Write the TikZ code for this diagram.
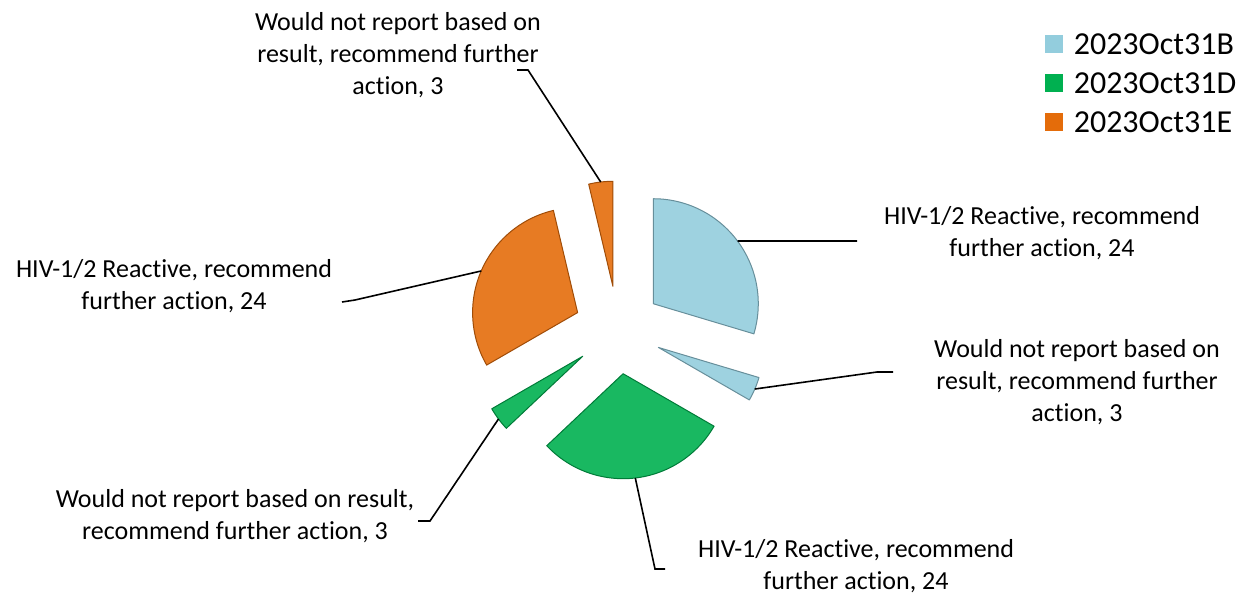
\documentclass[tikz,border=0pt]{standalone}
\usepackage{xcolor}
\usepackage{fontspec}
\setmainfont{Carlito}[Ligatures=NoCommon]
\usetikzlibrary{positioning}

\definecolor{oct31b}{HTML}{93CDDD}
\definecolor{oct31d}{HTML}{00B050}
\definecolor{oct31e}{HTML}{E46C0A}

\begin{document}
\begin{tikzpicture}[x=0.5pt, y=-0.5pt,
		slice/.style={fill=#1!90!white, draw=#1!70!black, line width=0.5pt, line join=round},
		leader/.style={draw=black, line width=0.8pt},
		lbl/.style={align=center, font=\fontsize{13}{16}\selectfont, inner sep=0pt},
		keybox/.style={fill=#1, minimum size=9pt, inner sep=0pt},
		keytext/.style={font=\fontsize{16}{19.5}\selectfont, inner sep=0pt}]
	\useasboundingbox (0,0) rectangle (1245,594);
	
	% We will draw the exploded pie here (angles clockwise, y runs down)
	\coordinate (centre) at (618,330);
	\foreach \name/\from/\to/\col in {
			bb/-90/16.67/oct31b,
			bs/16.67/30/oct31b,
			db/30/136.67/oct31d,
			ds/136.67/150/oct31d,
			eb/150/256.67/oct31e,
			es/256.67/270/oct31e}
	{
		\pgfmathsetmacro{\midang}{(\from+\to)/2}
		\path[slice=\col] (centre) ++(\midang:44) coordinate (\name-apex)
			-- ++(\from:105) arc[start angle=\from, end angle=\to, radius=105] -- cycle;
		\path (\name-apex) ++(\midang:105) coordinate (\name-rim);
	}
	
	% labels
	\node[lbl] (bb-lbl) at (1042,233) {HIV-1/2 Reactive, recommend\\further action, 24};
	\node[lbl] (bs-lbl) at (1077,382) {Would not report based on\\result, recommend further\\action, 3};
	\node[lbl] (db-lbl) at (856,566) {HIV-1/2 Reactive, recommend\\further action, 24};
	\node[lbl] (ds-lbl) at (235,516) {Would not report based on result,\\recommend further action, 3};
	\node[lbl] (eb-lbl) at (174,286) {HIV-1/2 Reactive, recommend\\further action, 24};
	\node[lbl] (es-lbl) at (398,55) {Would not report based on\\result, recommend further\\action, 3};
	
	% leader lines
	\coordinate (bb-end) at (857,241);
	\coordinate (bs-bend) at (877,372);
	\coordinate (bs-end) at (893,372);
	\coordinate (db-bend) at (655,569);
	\coordinate (db-end) at (665,569);
	\coordinate (ds-bend) at (430,521);
	\coordinate (ds-end) at (418,521);
	\coordinate (eb-bend) at (355,300);
	\coordinate (eb-end) at (342,302);
	\coordinate (es-bend) at (528,70);
	\coordinate (es-end) at (517,70);
	\draw[leader] (bb-rim) -- (bb-end);
	\draw[leader] (bs-rim) -- (bs-bend) -- (bs-end);
	\draw[leader] (db-rim) -- (db-bend) -- (db-end);
	\draw[leader] (ds-rim) -- (ds-bend) -- (ds-end);
	\draw[leader] (eb-rim) -- (eb-bend) -- (eb-end);
	\draw[leader] (es-rim) -- (es-bend) -- (es-end);
	
	% legend
	\foreach \key/\col [count=\i] in {2023Oct31B/oct31b, 2023Oct31D/oct31d, 2023Oct31E/oct31e}
	{
		\node[keybox=\col] (key\i) at (1054,5+39*\i) {};
		\node[keytext, right=5pt of key\i] (keylbl\i) {\key};
	}
	
\end{tikzpicture}
\end{document}
